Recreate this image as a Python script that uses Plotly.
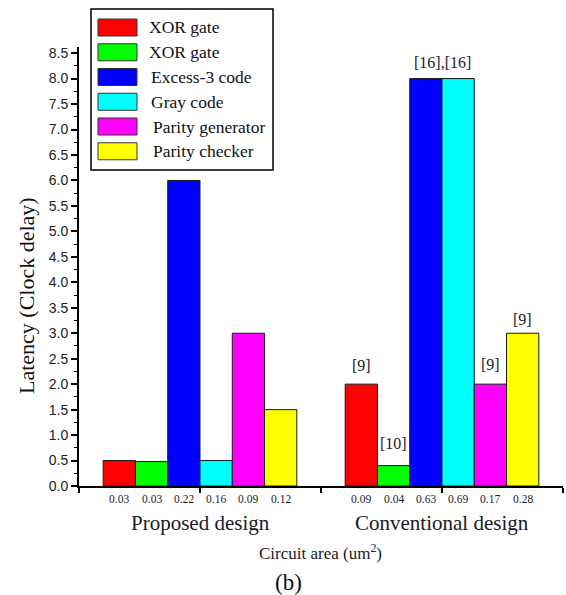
import plotly.graph_objects as go

# ---- data ----
groups = ["Proposed design", "Conventional design"]
group_pos = [1, 3]
series_names = ["XOR gate", "XOR gate", "Excess-3 code", "Gray code",
                "Parity generator", "Parity checker"]
series_colors = ["#FF0000", "#00FF00", "#0000FF", "#00FFFF", "#FF00FF", "#FFFF00"]
proposed_latency = [0.5, 0.48, 6.0, 0.5, 3.0, 1.5]
conventional_latency = [2.0, 0.4, 8.0, 8.0, 2.0, 3.0]
proposed_area = ["0.03", "0.03", "0.22", "0.16", "0.09", "0.12"]
conventional_area = ["0.09", "0.04", "0.63", "0.69", "0.17", "0.28"]
# reference citations above the conventional bars: (text, bar indices)
conventional_refs = [("[9]", [0]), ("[10]", [1]), ("[16],[16]", [2, 3]),
                     ("[9]", [4]), ("[9]", [5])]

# ---- geometry ----
W, H = 566, 595
ML, MR, MT, MB = 79, 3, 47, 109
PW, PH = W - ML - MR, H - MT - MB
X_RANGE = [0, 4]
Y_RANGE = [0, 8.62]
BARGAP = 0.2
n = len(series_names)
slot = group_pos[1] - group_pos[0]
bar_w = slot * (1 - BARGAP) / n


def px_x(px):
    return (px - ML) / PW


def px_y(py):
    return (H - MB - py) / PH


def bar_center(g, i):
    return group_pos[g] - slot * (1 - BARGAP) / 2 + bar_w * (i + 0.5)


SERIF = "Liberation Serif"
SANS = "Liberation Sans"

fig = go.Figure()
for i, name in enumerate(series_names):
    fig.add_trace(go.Bar(
        x=group_pos,
        y=[proposed_latency[i], conventional_latency[i]],
        name=name,
        marker=dict(color=series_colors[i], line=dict(color="#1a1a1a", width=1)),
        showlegend=False,
    ))

annotations = []
shapes = []

# circuit-area labels under each bar
for g, areas in enumerate([proposed_area, conventional_area]):
    for i, a in enumerate(areas):
        annotations.append(dict(
            x=bar_center(g, i), xref="x", y=px_y(499), yref="paper",
            text=a, showarrow=False, xanchor="center", yanchor="middle",
            font=dict(family=SERIF, size=11.5, color="#1a1a2a")))

# group names
for g, name in enumerate(groups):
    annotations.append(dict(
        x=group_pos[g], xref="x", y=px_y(523), yref="paper",
        text=name, showarrow=False, xanchor="center", yanchor="middle",
        font=dict(family=SERIF, size=21, color="#1a1a2a")))

# citations above conventional bars
ref_shift = [19, 22, 16, 20, 14]
for k, (txt, idx) in enumerate(conventional_refs):
    xs = [bar_center(1, i) for i in idx]
    yv = max(conventional_latency[i] for i in idx)
    annotations.append(dict(
        x=sum(xs) / len(xs), xref="x", y=yv, yref="y",
        text=txt, showarrow=False, xanchor="center", yanchor="middle",
        yshift=ref_shift[k],
        font=dict(family=SERIF, size=16, color="#1a1a1a")))

# axis titles and panel tag
annotations.append(dict(
    x=px_x(26), xref="paper", y=px_y(296), yref="paper",
    text="Latency (Clock delay)", textangle=-90, showarrow=False,
    xanchor="center", yanchor="middle",
    font=dict(family=SERIF, size=22, color="#111")))
annotations.append(dict(
    x=px_x(320), xref="paper", y=px_y(552), yref="paper",
    text="Circuit area (um<sup>2</sup>)", showarrow=False,
    xanchor="center", yanchor="middle",
    font=dict(family=SERIF, size=17, color="#1a1a2a")))
annotations.append(dict(
    x=px_x(288), xref="paper", y=px_y(582), yref="paper",
    text="(b)", showarrow=False, xanchor="center", yanchor="middle",
    font=dict(family=SERIF, size=23, color="#111")))

# legend box
shapes.append(dict(type="rect", xref="paper", yref="paper",
                   x0=px_x(91), x1=px_x(273), y0=px_y(170), y1=px_y(9),
                   line=dict(color="black", width=1.5), fillcolor="white"))
for i, (name, col) in enumerate(zip(series_names, series_colors)):
    cy = 27.5 + i * 24.75
    shapes.append(dict(type="rect", xref="paper", yref="paper",
                       x0=px_x(98), x1=px_x(137), y0=px_y(cy + 8.5), y1=px_y(cy - 8.5),
                       line=dict(color="#333", width=1), fillcolor=col))
    annotations.append(dict(
        x=px_x(147 + (2 if i >= 2 else 0) + (2 if i >= 4 else 0)), xref="paper",
        y=px_y(cy), yref="paper", text=name, showarrow=False,
        xanchor="left", yanchor="middle",
        font=dict(family=SERIF, size=17.5, color="#111")))

fig.update_layout(
    width=W, height=H, autosize=False,
    margin=dict(l=ML, r=MR, t=MT, b=MB, pad=0),
    paper_bgcolor="white", plot_bgcolor="white",
    barmode="group", bargap=BARGAP, bargroupgap=0,
    xaxis=dict(range=X_RANGE, tickmode="array", tickvals=[0, 1, 2, 3, 4],
               showticklabels=False, ticks="outside", ticklen=5, tickwidth=1.5,
               tickcolor="black", showline=True, linewidth=2, linecolor="black",
               showgrid=False, zeroline=False),
    yaxis=dict(range=Y_RANGE, tick0=0, dtick=0.5, tickformat=".1f",
               ticks="outside", ticklen=6, tickwidth=1.5, tickcolor="black",
               minor=dict(ticks="outside", dtick=0.25, ticklen=3, tickwidth=1,
                          tickcolor="black", showgrid=False),
               showline=True, linewidth=2, linecolor="black",
               showgrid=False, zeroline=False,
               tickfont=dict(family=SANS, size=14, color="#222")),
    annotations=annotations,
    shapes=shapes,
)

fig.write_html("out.html")
